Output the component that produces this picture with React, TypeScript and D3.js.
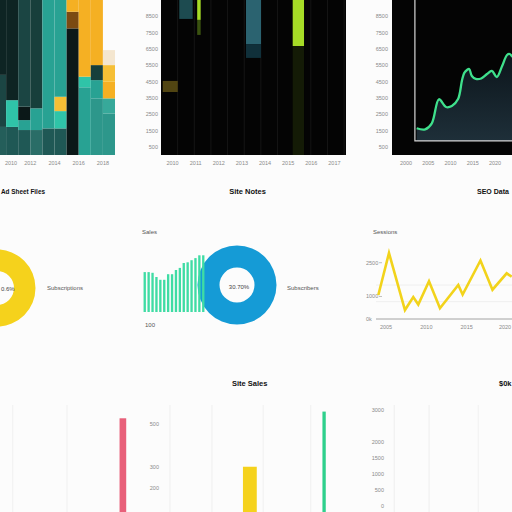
import React from 'react';
import * as d3 from 'd3';

const FONT = "'Liberation Sans', Arial, sans-serif";

// ---------- Panel A: stacked columns ----------
const stackYears = [2009, 2010, 2011, 2012, 2013, 2014, 2015, 2016, 2017, 2018];
const stackValues = [
  [1720, 3190, 4600],
  [1720, 1640, 6140],
  [1530, 610, 820, 6540],
  [1530, 1330, 6640],
  [1630, 7870],
  [1630, 1060, 880, 5930],
  [7760, 1020, 720],
  [4150, 650, 4700],
  [3470, 1120, 920, 3990],
  [2550, 920, 1020, 1020, 920],
];
const stackSeries = [
  ['pine', 'deep', 'night'],
  ['base', 'mint', 'night'],
  ['base', 'teal', 'ink', 'deep'],
  ['moss', 'teal', 'slate'],
  ['base', 'teal'],
  ['base', 'mint', 'gold', 'teal'],
  ['ink', 'rust', 'amber'],
  ['teal', 'mint', 'amber'],
  ['sea', 'teal', 'slate', 'amber'],
  ['sea', 'lagoon', 'amber', 'gold', 'cream'],
];
const stackTickYears = [2010, 2012, 2014, 2016, 2018];

// ---------- Panel B: dark floating bars ----------
const valueTicks = [500, 1500, 2500, 3500, 4500, 5500, 6500, 7500, 8500];
const darkCats = ['2010', '2011', '2012', '2013', '2014', '2015', '2016', '2017'];
const rangePos = [0.4, 1.08, 1.64, 1.64, 4.0, 4.0, 5.94, 5.94];
const rangeSpan = [0.65, 0.58, 0.15, 0.15, 0.65, 0.65, 0.49, 0.49];
const rangeLow = [3860, 8340, 8280, 7360, 6800, 5950, 6680, 0];
const rangeHigh = [4540, 9700, 9700, 8280, 9700, 6800, 9700, 6680];
const rangeSeries = ['olive', 'dusk', 'lime', 'limeDim', 'steel', 'steelDim', 'lime', 'limeShade'];

// ---------- Panel C: green trend ----------
const trendYears = [2002.4, 2004.3, 2005.8, 2007.4, 2009.0, 2010.3, 2011.7, 2012.6, 2013.1, 2013.7, 2014.2,
  2014.8, 2015.7, 2016.9, 2018.2, 2019.3, 2020.4, 2021.6, 2022.7, 2023.3, 2023.9];
const trendValues = [1640, 1575, 1945, 3415, 2940, 3005, 3430, 4600, 5030, 5210, 5270,
  4840, 4660, 4690, 4965, 5150, 4780, 5455, 6130, 6190, 6010];
const trendTicks = [2000, 2005, 2010, 2015, 2020];
const trendBase = 860;
const trendStart = 2002;

// ---------- Middle row ----------
const donutA = [100];
const donutALabel = '0.6%';
const donutB = [100];
const donutBLabel = '30.70%';
const salesBars = [57, 57, 56, 50, 46, 46, 54, 54, 60, 63, 70, 71, 74, 77, 81, 81];
const sessionYears = [2004.05, 2005.37, 2007.35, 2008.38, 2009.0, 2010.33, 2011.69, 2013.96, 2014.5, 2016.71, 2018.2, 2019.96, 2020.58];
const sessionValues = [1066, 2930, 400, 977, 644, 1674, 475, 1510, 1088, 2598, 1301, 2029, 1878];
const sessionTicks = [0, 1000, 2500];
const sessionGrid = [770, 1510];
const sessionXTicks = [2005, 2010, 2015, 2020];

// ---------- Bottom row ----------
const bottomGrid = [0.25, 1.31, 3.32, 4.14, 5.14, 6.07, 7.7, 8.38, 9.34];
const leftBarPos = [2.4, 4.88];
const leftBarSpan = [0.13, 0.27];
const leftBarValues = [527, 300];
const leftBarSeries = ['pink', 'yellow'];
const rightBarPos = [6.33];
const rightBarSpan = [0.065];
const rightBarValues = [2950];
const leftTicks = [200, 300, 500];
const rightTicks = [0, 500, 1000, 1500, 2000, 3000];

const toneKeys = ['pine', 'deep', 'night', 'base', 'mint', 'teal', 'ink', 'moss', 'slate', 'gold', 'rust', 'amber', 'sea', 'lagoon', 'cream',
  'olive', 'dusk', 'lime', 'limeDim', 'steel', 'steelDim', 'limeShade', 'pink', 'yellow'];
const toneHex = ['#245e5a', '#1b4543', '#0e2423', '#1f5855', '#2fc4a8', '#28a293', '#0b1818', '#2a6d67', '#173f3b', '#f6bf35', '#7b4a12', '#f5b023', '#2d978b', '#37a99a', '#f4e6cf',
  '#514512', '#1d4b50', '#a6dc26', '#3a5210', '#2b6370', '#10303a', '#141b06', '#e8607a', '#f5d21c'];

const tickStyle: React.CSSProperties = { fontFamily: FONT, fontSize: 5.5, fill: '#8a8a8a' };
const titleStyle: React.CSSProperties = { fontFamily: FONT, fontSize: 7.5, fontWeight: 700, fill: '#111' };
const labelStyle: React.CSSProperties = { fontFamily: FONT, fontSize: 6, fill: '#555' };

export default function App() {
  const tone = d3.scaleOrdinal<string, string>().domain(toneKeys).range(toneHex);

  // Panel A
  const yA = d3.scaleLinear().domain([0, 9500]).range([155, 0]);
  const xA = d3.scaleLinear().domain([2009, 2019]).range([-6, 115]);
  const stackRects = stackValues.flatMap((vals, i) => {
    const cum = Array.from(d3.cumsum(vals));
    return vals.map((v, j) => ({
      key: `${i}-${j}`,
      x: xA(stackYears[i]),
      w: xA(stackYears[i] + 1) - xA(stackYears[i]),
      y: yA(cum[j]),
      h: yA(cum[j] - v) - yA(cum[j]),
      c: tone(stackSeries[i][j]),
    }));
  });

  // Panel B
  const xB = d3.scaleLinear().domain([0, 8]).range([161, 346]);
  const gridB = d3.range(0.72, 8, 0.72);

  // Panel C
  const xC = d3.scaleLinear().domain([2000, 2020]).range([406, 495]);
  const pts = trendYears.map((y, i) => [y, trendValues[i]] as [number, number]);
  const curve = d3.curveCatmullRom.alpha(0.5);
  const trendLine = d3.line<[number, number]>().x(d => xC(d[0])).y(d => yA(d[1])).curve(curve)(pts) || '';
  const trendArea = d3.area<[number, number]>().x(d => xC(d[0])).y0(yA(trendBase)).y1(d => yA(d[1])).curve(curve)(pts) || '';

  // Middle
  const pie = d3.pie<number>().sort(null);
  const arcA = d3.arc<d3.PieArcDatum<number>>().innerRadius(17).outerRadius(38.5);
  const arcB = d3.arc<d3.PieArcDatum<number>>().innerRadius(17.5).outerRadius(39.5);
  const xS = d3.scaleBand<number>().domain(d3.range(salesBars.length)).range([142, 206]).padding(0.4);
  const yS = d3.scaleLinear().domain([0, 100]).range([312, 242]);
  const xL = d3.scaleLinear().domain([2005, 2020]).range([386, 507]);
  const yL = d3.scaleLinear().domain([0, 3500]).range([319, 240.2]);
  const sessPts = sessionYears.map((y, i) => [y, sessionValues[i]] as [number, number]);
  const sessLine = d3.line<[number, number]>().x(d => xL(d[0])).y(d => yL(d[1])).curve(d3.curveLinear)(sessPts) || '';

  // Bottom
  const xD = d3.scaleLinear().domain([0, 10]).range([0, 512]);
  const yDL = d3.scaleLinear().domain([88, 600]).range([512, 402.7]);
  const yDR = d3.scaleLinear().domain([-200, 3000]).range([512, 410]);

  return (
    <svg width={512} height={512} viewBox="0 0 512 512" style={{ position: 'fixed', left: 0, top: 0, background: '#fcfcfc' }}>
      <defs>
        <clipPath id="clipB"><rect x={161} y={0} width={185} height={155} /></clipPath>
        <clipPath id="clipC"><rect x={392} y={0} width={120} height={155} /></clipPath>
        <linearGradient id="areaGrad" x1="0" y1="0" x2="0" y2="1">
          <stop offset="0" stopColor="#0c151b" />
          <stop offset="1" stopColor="#1e2f39" />
        </linearGradient>
      </defs>
      <rect x={0} y={0} width={512} height={512} fill="#fcfcfc" />

      {/* Panel A */}
      <g>
        {stackRects.map(r => (
          <rect key={r.key} x={r.x} y={r.y} width={r.w} height={r.h} fill={r.c} />
        ))}
        {stackTickYears.map(t => (
          <text key={t} x={Math.max(xA(t), 11)} y={165} textAnchor="middle" style={tickStyle}>{t}</text>
        ))}
      </g>

      {/* Panel B */}
      <g>
        <rect x={161} y={0} width={185} height={155} fill="#040404" />
        <g clipPath="url(#clipB)">
          {gridB.map((g, i) => (
            <line key={i} x1={xB(g)} x2={xB(g)} y1={0} y2={155} stroke="#191919" strokeWidth={0.8} />
          ))}
          {rangePos.map((p, i) => (
            <rect key={i} x={xB(p - rangeSpan[i] / 2)} width={xB(rangeSpan[i]) - xB(0)}
              y={yA(rangeHigh[i])} height={yA(rangeLow[i]) - yA(rangeHigh[i])} fill={tone(rangeSeries[i])} />
          ))}
        </g>
        {valueTicks.map(t => (
          <text key={t} x={158} y={yA(t) + 2} textAnchor="end" style={tickStyle}>{t}</text>
        ))}
        {darkCats.map((c, i) => (
          <text key={c} x={xB(i + 0.5)} y={165} textAnchor="middle" style={tickStyle}>{c}</text>
        ))}
      </g>

      {/* Panel C */}
      <g>
        <rect x={392} y={0} width={120} height={155} fill="#040404" />
        <g clipPath="url(#clipC)">
          <path d={trendArea} fill="url(#areaGrad)" />
          <path d={`M${xC(trendStart)},0V${yA(trendBase)}H512`} fill="none" stroke="#d6d6d6" strokeWidth={1.2} />
          <path d={trendLine} fill="none" stroke="#3fe08c" strokeWidth={2.3} strokeLinejoin="round" />
        </g>
        {valueTicks.map(t => (
          <text key={t} x={388} y={yA(t) + 2} textAnchor="end" style={tickStyle}>{t}</text>
        ))}
        {trendTicks.map(t => (
          <text key={t} x={xC(t)} y={165} textAnchor="middle" style={tickStyle}>{t}</text>
        ))}
      </g>

      {/* Titles middle row */}
      <text x={1} y={194} textLength={44} lengthAdjust="spacingAndGlyphs" style={titleStyle}>Ad Sheet Files</text>
      <text x={247.5} y={194} textAnchor="middle" style={titleStyle}>Site Notes</text>
      <text x={477} y={194} style={{ ...titleStyle, fontSize: 7 }}>SEO Data</text>

      {/* Yellow donut */}
      <g transform="translate(-3,288)">
        {pie(donutA).map((a, i) => (
          <path key={i} d={arcA(a) || ''} fill="#f5d21c" />
        ))}
      </g>
      <text x={1} y={290.5} style={{ ...labelStyle, fill: '#444' }}>{donutALabel}</text>
      <text x={47} y={290} style={labelStyle}>Subscriptions</text>

      {/* Blue donut */}
      <g transform="translate(237,285)">
        {pie(donutB).map((a, i) => (
          <path key={i} d={arcB(a) || ''} fill="#159bd6" />
        ))}
        <text x={2} y={4} textAnchor="middle" style={{ ...labelStyle, fill: '#444' }}>{donutBLabel}</text>
      </g>
      <text x={287} y={290} style={labelStyle}>Subscribers</text>

      {/* Green mini bars */}
      <text x={142} y={233.5} style={labelStyle}>Sales</text>
      {salesBars.map((v, i) => (
        <rect key={i} x={xS(i)} y={yS(v)} width={xS.bandwidth()} height={yS(0) - yS(v)} fill="#3fdca4" />
      ))}
      <text x={145} y={327} style={labelStyle}>100</text>

      {/* Yellow session line */}
      <text x={373} y={233.5} style={labelStyle}>Sessions</text>
      {sessionGrid.map(g => (
        <line key={g} x1={376} x2={512} y1={yL(g)} y2={yL(g)} stroke="#ececec" strokeWidth={0.8} />
      ))}
      <line x1={376} x2={512} y1={yL(0)} y2={yL(0)} stroke="#9a9a9a" strokeWidth={0.9} />
      {sessionTicks.map(t => (
        <g key={t}>
          <text x={366} y={yL(t) + 2} style={tickStyle}>{t === 0 ? '0k' : t}</text>
          {t !== 0 && <line x1={379} x2={382} y1={yL(t)} y2={yL(t)} stroke="#999" strokeWidth={0.6} />}
        </g>
      ))}
      {sessionXTicks.map(t => (
        <text key={t} x={Math.min(xL(t), 505)} y={328.5} textAnchor="middle" style={tickStyle}>{t}</text>
      ))}
      <path d={sessLine} fill="none" stroke="#f2d31b" strokeWidth={2.6} strokeLinejoin="miter" />

      {/* Bottom row */}
      <text x={232} y={386} style={titleStyle}>Site Sales</text>
      <text x={499} y={386} style={titleStyle}>$0k</text>
      {bottomGrid.map((g, i) => (
        <line key={i} x1={xD(g)} x2={xD(g)} y1={405} y2={512} stroke="#eeeeee" strokeWidth={0.9} />
      ))}
      {leftBarPos.map((p, i) => (
        <rect key={i} x={xD(p - leftBarSpan[i] / 2)} width={xD(leftBarSpan[i])} y={yDL(leftBarValues[i])}
          height={yDL(88) - yDL(leftBarValues[i])} fill={tone(leftBarSeries[i])} />
      ))}
      {rightBarPos.map((p, i) => (
        <rect key={i} x={xD(p - rightBarSpan[i] / 2)} width={xD(rightBarSpan[i])} y={yDR(rightBarValues[i])}
          height={yDR(-200) - yDR(rightBarValues[i])} fill="#2ed08c" />
      ))}
      {leftTicks.map(t => (
        <text key={t} x={159} y={yDL(t) + 2} textAnchor="end" style={tickStyle}>{t}</text>
      ))}
      {rightTicks.map(t => (
        <text key={t} x={384} y={yDR(t) + 2} textAnchor="end" style={tickStyle}>{t}</text>
      ))}
    </svg>
  );
}
